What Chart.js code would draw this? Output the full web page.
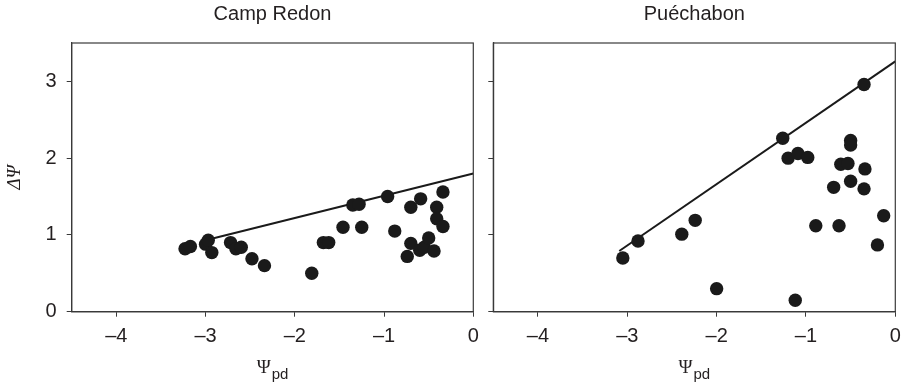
<!DOCTYPE html>
<html>
<head>
<meta charset="utf-8">
<script src="https://cdn.jsdelivr.net/npm/chart.js@4/dist/chart.umd.min.js"></script>
<style>
    body { margin: 0; background: #fff; }
    #wrap { position: relative; width: 902px; height: 385px; }
    canvas { position: absolute; top: 0; }
    #c1 { left: 0; }
    #c2 { left: 480px; }
</style>
</head>
<body>
<div id="wrap">
    <canvas id="c1" width="480" height="385"></canvas>
    <canvas id="c2" width="422" height="385"></canvas>
</div>
<script>
// panel titles
const panelTitles = ['Camp Redon', 'Puéchabon'];

// Camp Redon: points and fitted line
const campX = [-3.23, -3.17, -3.00, -2.97, -2.93, -2.72, -2.66, -2.60, -2.48, -2.34,
    -1.81, -1.68, -1.62, -1.46, -1.35, -1.28, -1.25, -0.96, -0.88, -0.74,
    -0.70, -0.70, -0.59, -0.60, -0.55, -0.50, -0.44, -0.41, -0.41, -0.34, -0.34];
const campY = [0.82, 0.85, 0.88, 0.93, 0.77, 0.90, 0.82, 0.84, 0.69, 0.60,
    0.50, 0.90, 0.90, 1.10, 1.39, 1.40, 1.10, 1.50, 1.05, 0.72,
    1.36, 0.89, 1.47, 0.80, 0.84, 0.96, 0.79, 1.36, 1.21, 1.11, 1.56];
const campLineX = [-3.0, 0];
const campLineY = [0.93, 1.80];

// Puéchabon: points and fitted line
const puechX = [-3.05, -2.88, -2.39, -2.24, -2.00, -1.26, -1.20, -1.09, -0.98, -1.12,
    -0.89, -0.69, -0.63, -0.61, -0.53, -0.50, -0.50, -0.50, -0.35, -0.34,
    -0.35, -0.20, -0.13];
const puechY = [0.70, 0.92, 1.01, 1.19, 0.30, 2.26, 2.00, 2.06, 2.01, 0.15,
    1.12, 1.62, 1.12, 1.92, 1.93, 2.23, 2.17, 1.70, 2.96, 1.86,
    1.60, 0.87, 1.25];
const puechLineX = [-3.09, 0];
const puechLineY = [0.79, 3.26];

// axes
const xTicks = [-4, -3, -2, -1, 0];
const yTicks = [0, 1, 2, 3];
const xRange = [-4.5, 0];
const yRange = [0, 3.5];
const yTitle = 'ΔΨ';

const ink = '#231f20';
const frameColor = '#3a3a3a';

// box round the plot area
const framePlugin = {
    id: 'frame',
    afterDatasetsDraw(chart) {
        const { ctx, chartArea: a } = chart;
        ctx.save();
        ctx.strokeStyle = frameColor;
        ctx.lineWidth = 1.2;
        ctx.strokeRect(a.left, a.top, a.right - a.left, a.bottom - a.top);
        ctx.restore();
    }
};

// x title with a subscript: Ψ + "pd"
const psiTitlePlugin = {
    id: 'psiTitle',
    afterDraw(chart) {
        const { ctx, chartArea: a } = chart;
        const big = '19px "Liberation Serif"';
        const small = '15px "Liberation Sans"';
        ctx.save();
        ctx.fillStyle = ink;
        ctx.textAlign = 'left';
        ctx.textBaseline = 'alphabetic';
        ctx.font = big;
        const w1 = ctx.measureText('Ψ').width;
        ctx.font = small;
        const w2 = ctx.measureText('pd').width;
        const x0 = (a.left + a.right) / 2 - (w1 + w2 + 1) / 2;
        ctx.font = big;
        ctx.fillText('Ψ', x0, 373);
        ctx.font = small;
        ctx.fillText('pd', x0 + w1 + 1, 379);
        ctx.restore();
    }
};

function keepTicks(list) {
    return (scale) => { scale.ticks = list.map(v => ({ value: v })); };
}

function makePanel(id, title, xs, ys, lx, ly, showY) {
    const points = xs.map((x, i) => ({ x: x, y: ys[i] }));
    const line = lx.map((x, i) => ({ x: x, y: ly[i] }));
    return new Chart(document.getElementById(id), {
        type: 'scatter',
        data: {
            datasets: [
                {
                    data: points,
                    backgroundColor: '#1a1a1a',
                    borderWidth: 0,
                    pointRadius: 6.7,
                    pointHoverRadius: 6.7
                },
                {
                    type: 'line',
                    data: line,
                    borderColor: '#1a1a1a',
                    borderWidth: 2,
                    pointRadius: 0,
                    fill: false
                }
            ]
        },
        options: {
            responsive: false,
            animation: false,
            layout: { padding: 0 },
            plugins: {
                legend: { display: false },
                tooltip: { enabled: false },
                title: {
                    display: true,
                    text: title,
                    fullSize: false,
                    color: ink,
                    font: { family: '"Liberation Sans"', size: 20, weight: 'normal' },
                    padding: { top: 2, bottom: 17 }
                }
            },
            scales: {
                x: {
                    type: 'linear',
                    min: xRange[0],
                    max: xRange[1],
                    afterBuildTicks: keepTicks(xTicks),
                    afterFit: (scale) => {
                        scale.height = 73.3;
                        scale.paddingLeft = 0;
                        scale.paddingRight = 6;
                    },
                    border: { display: true, color: frameColor, width: 1.2 },
                    grid: { drawOnChartArea: false, drawTicks: true, tickLength: 5, color: frameColor },
                    ticks: {
                        color: ink,
                        padding: 8,
                        maxRotation: 0,
                        font: { family: '"Liberation Sans"', size: 20 },
                        callback: (v) => v < 0 ? '–' + Math.abs(v) : String(v)
                    }
                },
                y: {
                    type: 'linear',
                    min: yRange[0],
                    max: yRange[1],
                    afterBuildTicks: keepTicks(yTicks),
                    afterFit: (scale) => { scale.width = showY ? 71.7 : 13.3; },
                    border: { display: true, color: frameColor, width: 1.2 },
                    grid: { drawOnChartArea: false, drawTicks: true, tickLength: 5, color: frameColor },
                    title: {
                        display: showY,
                        text: yTitle,
                        color: ink,
                        font: { family: '"Liberation Serif"', size: 19, style: 'italic' },
                        padding: { top: 4, bottom: 0 }
                    },
                    ticks: {
                        display: showY,
                        color: ink,
                        padding: 10,
                        font: { family: '"Liberation Sans"', size: 20 }
                    }
                }
            }
        },
        plugins: [framePlugin, psiTitlePlugin]
    });
}

makePanel('c1', panelTitles[0], campX, campY, campLineX, campLineY, true);
makePanel('c2', panelTitles[1], puechX, puechY, puechLineX, puechLineY, false);
</script>
</body>
</html>
